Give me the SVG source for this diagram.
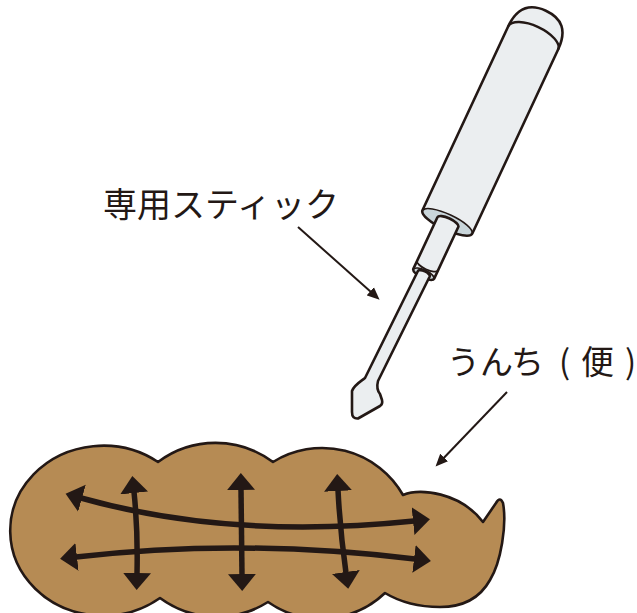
<svg xmlns="http://www.w3.org/2000/svg" width="637" height="613" viewBox="0 0 637 613">
  <style>
    .body { fill: #ebeef0; stroke: #231815; stroke-width: 2.6; stroke-linejoin: round; }
    .ring { fill: #c9d5da; stroke: #231815; stroke-width: 1.6; }
    .label { font-family: "Noto Sans CJK JP", "Noto Sans", sans-serif; font-size: 33px; fill: #231815; }
    .leader { fill: none; stroke: #231815; stroke-width: 2; }
    .move { fill: none; stroke: #231815; stroke-width: 5.5; }
  </style>
  <defs>
    <marker id="head-big" markerUnits="userSpaceOnUse" markerWidth="18" markerHeight="30" viewBox="0 0 18 30" refX="1" refY="15" orient="auto-start-reverse">
      <path d="M0,1 L17,15 L0,29 Z" fill="#231815"/>
    </marker>
    <marker id="head-small" markerUnits="userSpaceOnUse" markerWidth="13" markerHeight="12" viewBox="0 0 13 12" refX="1" refY="6" orient="auto">
      <path d="M0,0.5 L12.5,6 L0,11.5 Z" fill="#231815"/>
    </marker>
  </defs>

  <!-- stool -->
  <g id="stool">
    <path d="M158,462 A96 96 0 0 1 273,462 A93 93 0 0 1 403,495 C420,488 460,492 483,522 L496,503 Q500,496 503,503 C507,525 501,562 490,580 C480,598 464,607 440,607 C420,607 400,602 385,593 A93 93 0 0 1 268,602 A96 96 0 0 1 160,598 A93 85 0 1 1 158,462 Z" fill="#b68b54" stroke="#231815" stroke-width="2.6" stroke-linejoin="round"/>
  </g>

  <!-- spreading motion arrows and label leaders -->
  <g id="connectors">
    <path class="move" d="M81,498 Q230,540 414,521" marker-start="url(#head-big)" marker-end="url(#head-big)"/>
    <path class="move" d="M76,557 Q240,538 415,559" marker-start="url(#head-big)" marker-end="url(#head-big)"/>
    <path class="move" d="M134,492 Q138,530 137,574" marker-start="url(#head-big)" marker-end="url(#head-big)"/>
    <path class="move" d="M241,489 L242,575" marker-start="url(#head-big)" marker-end="url(#head-big)"/>
    <path class="move" d="M338,490 Q340,530 346,573" marker-start="url(#head-big)" marker-end="url(#head-big)"/>
    <path class="leader" d="M298,227 L371,292" marker-end="url(#head-small)"/>
    <path class="leader" d="M507,392 L443.5,458.2" marker-end="url(#head-small)"/>
  </g>

  <!-- stick: handle, ferrule, shaft and spatula -->
  <g id="stick">
    <g transform="translate(447.4,221.9) rotate(25)">
      <path class="body" d="M-27.5,0 L-27.5,-203 C-27.5,-224 -18,-233 0,-233 C18,-233 27.5,-224 27.5,-203 L27.5,0 A27.5 8 0 0 1 -27.5,0 Z"/>
      <path d="M-27.5,-203 A27.5 12 0 0 1 27.5,-203" fill="none" stroke="#231815" stroke-width="2.4"/>
      <ellipse class="ring" cx="0" cy="0" rx="27" ry="7.6"/>
      <path class="body" d="M-11,0 A11.5 4 0 0 1 12,0 L12,57 A11.5 4 0 0 1 -11,57 Z"/>
      <path d="M-11,48 A11.5 4 0 0 0 12,48" fill="none" stroke="#231815" stroke-width="1.8"/>
      <ellipse class="ring" cx="0.5" cy="57" rx="11" ry="3.8"/>
    </g>
    <path class="body" d="M417.9,271 L365,378 C360,382 354,385 352,391 L352,412 Q352,419 358,418.5 L380,406 Q383,404 382,400 L380,394 Q376,389 378,381 L429.7,276.5 A6.5 2.6 25 0 0 417.9,271 Z"/>
  </g>

  <g id="label-stick">
    <text class="label" x="103" y="217" style="font-size:34px">専用スティック</text>
  </g>
  <g id="label-stool">
    <text class="label" x="447 480 511 559 581 625" y="374">うんち(便)</text>
  </g>
</svg>
